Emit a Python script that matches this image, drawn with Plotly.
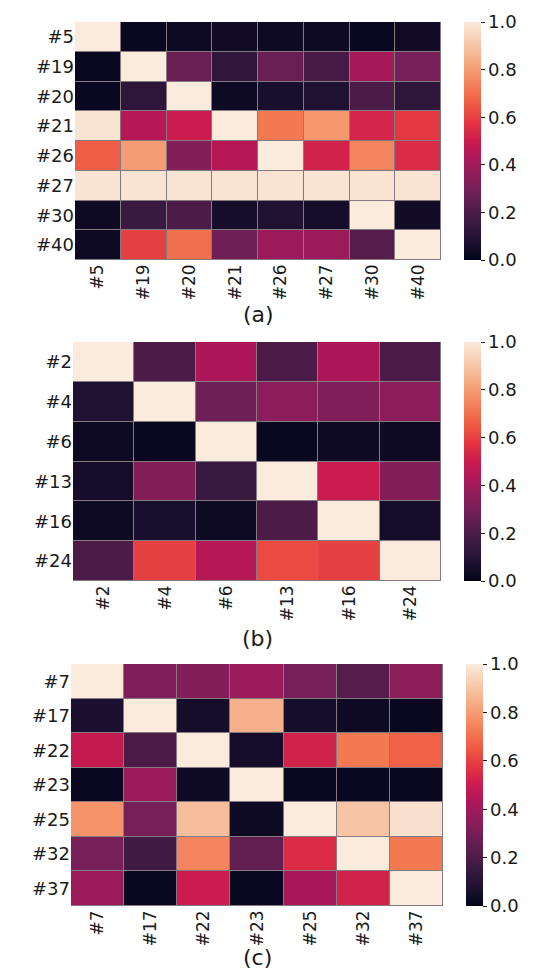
import plotly.graph_objects as go

labels_a = ["#5", "#19", "#20", "#21", "#26", "#27", "#30", "#40"]
values_a = [
    [1.00, 0.02, 0.03, 0.04, 0.03, 0.03, 0.02, 0.04],
    [0.02, 1.00, 0.27, 0.13, 0.27, 0.19, 0.41, 0.30],
    [0.02, 0.12, 1.00, 0.03, 0.06, 0.08, 0.20, 0.12],
    [0.98, 0.45, 0.50, 1.00, 0.72, 0.79, 0.53, 0.58],
    [0.66, 0.80, 0.33, 0.45, 1.00, 0.52, 0.75, 0.55],
    [0.98, 0.98, 0.98, 0.98, 0.98, 0.98, 0.98, 0.98],
    [0.03, 0.15, 0.20, 0.05, 0.08, 0.05, 1.00, 0.04],
    [0.03, 0.60, 0.70, 0.28, 0.38, 0.38, 0.22, 1.00],
]

labels_b = ["#2", "#4", "#6", "#13", "#16", "#24"]
values_b = [
    [1.00, 0.20, 0.43, 0.20, 0.43, 0.20],
    [0.08, 1.00, 0.28, 0.35, 0.32, 0.35],
    [0.03, 0.02, 1.00, 0.02, 0.03, 0.03],
    [0.05, 0.33, 0.15, 1.00, 0.50, 0.33],
    [0.03, 0.06, 0.03, 0.20, 1.00, 0.05],
    [0.20, 0.60, 0.45, 0.62, 0.60, 1.00],
]

labels_c = ["#7", "#17", "#22", "#23", "#25", "#32", "#37"]
values_c = [
    [1.00, 0.32, 0.33, 0.38, 0.30, 0.22, 0.35],
    [0.07, 1.00, 0.05, 0.85, 0.05, 0.03, 0.02],
    [0.48, 0.20, 1.00, 0.05, 0.52, 0.72, 0.67],
    [0.02, 0.38, 0.03, 1.00, 0.02, 0.02, 0.02],
    [0.78, 0.30, 0.88, 0.03, 1.00, 0.90, 0.97],
    [0.30, 0.17, 0.75, 0.25, 0.55, 1.00, 0.72],
    [0.38, 0.02, 0.50, 0.02, 0.42, 0.52, 1.00],
]

captions = ["(a)", "(b)", "(c)"]

rocket = [
    [0.0, "#03051a"],
    [0.071, "#1c1030"],
    [0.143, "#35193e"],
    [0.214, "#521c4b"],
    [0.286, "#701f57"],
    [0.357, "#8f1d5b"],
    [0.429, "#ad1759"],
    [0.5, "#cb1b4f"],
    [0.571, "#e13342"],
    [0.643, "#ee5542"],
    [0.714, "#f37651"],
    [0.786, "#f5966d"],
    [0.857, "#f6b48f"],
    [0.929, "#f8d0b5"],
    [1.0, "#faebdd"],
]

W, H = 556, 972
FONT = "DejaVu Sans"
TXT = "#1a1a1a"

# pixel geometry: (left, right, top, bottom) of each heatmap, colorbar left, caption y
geo = [
    (67, 433, 14, 252, 456, 306),
    (65, 433, 334, 573, 456, 630),
    (63, 435, 656, 898, 458, 949),
]

fig = go.Figure()
datasets = [(labels_a, values_a), (labels_b, values_b), (labels_c, values_c)]
for i, ((labs, vals), (l, r, t, b, cbx, capy)) in enumerate(zip(datasets, geo)):
    n = i + 1
    xa = "x" if n == 1 else f"x{n}"
    ya = "y" if n == 1 else f"y{n}"
    fig.add_trace(go.Heatmap(
        z=vals, x=labs, y=labs, xaxis=xa, yaxis=ya,
        colorscale=rocket, zmin=0, zmax=1, xgap=1, ygap=1,
        colorbar=dict(
            x=cbx / W, xanchor="left", xpad=0,
            y=1 - (t + b) / 2 / H, yanchor="middle", ypad=0,
            len=b - t, lenmode="pixels", thickness=17,
            outlinewidth=0, ticks="outside", ticklen=4, tickcolor=TXT,
            tickvals=[0, 0.2, 0.4, 0.6, 0.8, 1.0],
            ticktext=["0.0", "0.2", "0.4", "0.6", "0.8", "1.0"],
            tickfont=dict(family=FONT, size=18, color=TXT),
        ),
        hoverinfo="skip",
    ))
    xkey = "xaxis" if n == 1 else f"xaxis{n}"
    ykey = "yaxis" if n == 1 else f"yaxis{n}"
    fig.update_layout(**{
        xkey: dict(domain=[l / W, r / W], anchor=ya, tickangle=-90,
                   showgrid=False, zeroline=False, showline=False,
                   ticks="", tickfont=dict(family=FONT, size=17, color=TXT)),
        ykey: dict(domain=[1 - b / H, 1 - t / H], anchor=xa, autorange="reversed",
                   showgrid=False, zeroline=False, showline=False,
                   ticks="", tickfont=dict(family=FONT, size=18, color=TXT)),
    })
    fig.add_annotation(text=captions[i], x=(l + r) / 2 / W, y=1 - capy / H,
                       xref="paper", yref="paper", showarrow=False,
                       xanchor="center", yanchor="middle",
                       font=dict(family=FONT, size=22, color=TXT))

fig.update_layout(
    width=W, height=H, margin=dict(l=0, r=0, t=0, b=0),
    paper_bgcolor="white", plot_bgcolor="#857a82",
    showlegend=False,
)

fig.write_html("out.html")
